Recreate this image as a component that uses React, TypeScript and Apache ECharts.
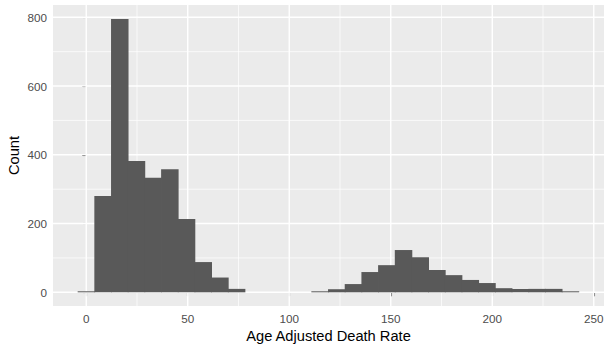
import React, { useEffect, useRef } from "react";
import * as echarts from "echarts";

// Histogram data (30 bins, ggplot default)
const binStart = -4.03;
const binWidth = 8.222;
const counts = [3, 280, 795, 382, 333, 358, 213, 88, 43, 10, 0, 0, 0, 0, 3, 9, 24, 59, 79, 123, 102, 65, 50, 36, 27, 12, 10, 10, 10, 3];
const xTicks = [0, 50, 100, 150, 200, 250];
const xMinor = [25, 75, 125, 175, 225];
const yTicks = [0, 200, 400, 600, 800];
const yMinor = [100, 300, 500, 700];
const xTitle = "Age Adjusted Death Rate";
const yTitle = "Count";

const X_MIN = -16.37;
const X_MAX = 255.04;
const Y_MIN = -39.8;
const Y_MAX = 835.8;
const FONT = "'Liberation Sans', Arial, sans-serif";

export default function App() {
  const ref = useRef<HTMLDivElement>(null);
  useEffect(() => {
    document.body.style.margin = "0";
    const chart = echarts.init(ref.current!, null, { renderer: "svg" });
    const gridData: number[][] = [
      ...xTicks.map((v) => [0, v, 1]),
      ...xMinor.map((v) => [0, v, 0]),
      ...yTicks.map((v) => [1, v, 1]),
      ...yMinor.map((v) => [1, v, 0]),
    ];
    const histData = counts.map((c, i) => [binStart + i * binWidth, binStart + (i + 1) * binWidth, c]);
    chart.setOption({
      animation: false,
      backgroundColor: "#ffffff",
      grid: {
        left: 53,
        right: 9,
        top: 5,
        bottom: 45,
        show: true,
        backgroundColor: "#EBEBEB",
        borderWidth: 0,
      },
      xAxis: {
        type: "value",
        min: X_MIN,
        max: X_MAX,
        axisLine: { show: false },
        axisTick: { show: true, customValues: xTicks, length: 4, lineStyle: { color: "#333333", width: 1.07 } },
        axisLabel: { customValues: xTicks, color: "#4D4D4D", fontSize: 11.7, fontFamily: FONT, margin: 6 },
        splitLine: { show: false },
      },
      yAxis: {
        type: "value",
        min: Y_MIN,
        max: Y_MAX,
        axisLine: { show: false },
        axisTick: { show: true, customValues: yTicks, length: 4, lineStyle: { color: "#333333", width: 1.07 } },
        axisLabel: { customValues: yTicks, color: "#4D4D4D", fontSize: 11.7, fontFamily: FONT, margin: 6 },
        splitLine: { show: false },
      },
      series: [
        {
          type: "custom",
          silent: true,
          z: 1,
          data: gridData,
          encode: { x: 1, y: 1 },
          renderItem: (params: any, api: any) => {
            const dir = api.value(0);
            const v = api.value(1);
            const major = api.value(2);
            let p1, p2;
            if (dir === 0) {
              p1 = api.coord([v, Y_MIN]);
              p2 = api.coord([v, Y_MAX]);
            } else {
              p1 = api.coord([X_MIN, v]);
              p2 = api.coord([X_MAX, v]);
            }
            return {
              type: "line",
              shape: { x1: p1[0], y1: p1[1], x2: p2[0], y2: p2[1] },
              style: { stroke: "#FFFFFF", lineWidth: major ? 1.4 : 0.7 },
            };
          },
        },
        {
          type: "custom",
          z: 2,
          data: histData,
          encode: { x: [0, 1], y: 2 },
          renderItem: (params: any, api: any) => {
            const c = api.value(2);
            if (!(c > 0)) return { type: "group", children: [] };
            const p0 = api.coord([api.value(0), 0]);
            const p1 = api.coord([api.value(1), c]);
            return {
              type: "rect",
              shape: { x: p0[0] - 0.4, y: p1[1], width: p1[0] - p0[0] + 0.8, height: p0[1] - p1[1] },
              style: { fill: "#595959" },
            };
          },
        },
      ],
      graphic: [
        {
          type: "text",
          x: 328.5,
          y: 336,
          style: { text: xTitle, fontSize: 14.67, fill: "#000000", align: "center", verticalAlign: "middle", fontFamily: FONT },
        },
        {
          type: "text",
          x: 14,
          y: 155.5,
          rotation: Math.PI / 2,
          style: { text: yTitle, fontSize: 14.67, fill: "#000000", align: "center", verticalAlign: "middle", fontFamily: FONT },
        },
      ],
    });
    return () => chart.dispose();
  }, []);
  return <div ref={ref} style={{ width: 613, height: 351 }} />;
}
